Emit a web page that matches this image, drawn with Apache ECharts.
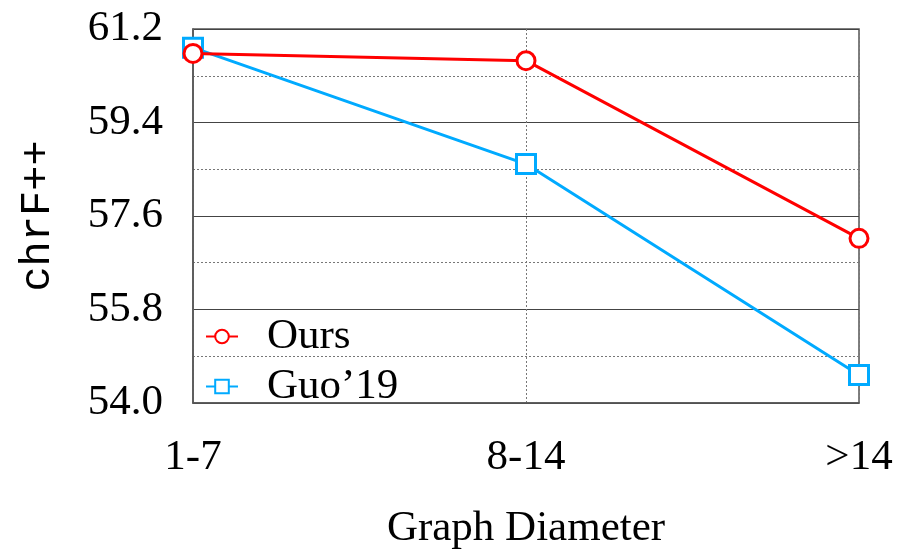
<!DOCTYPE html>
<html><head><meta charset="utf-8">
<script src="https://cdn.jsdelivr.net/npm/echarts@6/dist/echarts.min.js"></script>
<style>html,body{margin:0;padding:0;background:#fff}#c{width:900px;height:555px}</style>
</head><body><div id="c"></div>
<script>
const categories = ['1-7', '8-14', '>14'];
const oursValues = [60.73, 60.59, 57.17];
const guoValues = [60.84, 58.60, 54.54];
const seriesNames = ['Ours', 'Guo\u201919'];
const yTicks = [54.0, 55.8, 57.6, 59.4, 61.2];

const serif = '"Liberation Serif", "DejaVu Serif", serif';
const chart = echarts.init(document.getElementById('c'), null, {renderer: 'canvas'});
chart.setOption({
  animation: false,
  backgroundColor: '#fff',
  grid: {left: 193, right: 41, top: 29, bottom: 150, show: true, borderColor: '#555', borderWidth: 1.5},
  legend: {
    orient: 'vertical', left: 200, top: 310, itemGap: 7, itemWidth: 32, itemHeight: 17,
    textStyle: {fontFamily: serif, fontSize: 43, color: '#000', padding: [0, 0, 0, 24]},
    data: seriesNames
  },
  xAxis: {
    type: 'category', data: categories, boundaryGap: false,
    name: 'Graph Diameter', nameLocation: 'middle', nameGap: 104,
    nameTextStyle: {fontFamily: serif, fontSize: 43, color: '#000'},
    axisLine: {show: true, lineStyle: {color: '#555', width: 1.5}},
    axisTick: {show: false},
    axisLabel: {fontFamily: serif, fontSize: 43, color: '#000', margin: 33},
    splitLine: {show: true, lineStyle: {color: '#777', type: [2, 2], width: 1}}
  },
  yAxis: {
    type: 'value', min: yTicks[0], max: yTicks[yTicks.length - 1], interval: 1.8,
    name: 'chrF++', nameLocation: 'middle', nameGap: 134,
    nameTextStyle: {fontFamily: '"Liberation Mono", "DejaVu Sans Mono", monospace', fontSize: 42, fontWeight: 'normal', color: '#000'},
    axisLine: {show: true, lineStyle: {color: '#555', width: 1.5}},
    axisTick: {show: false},
    axisLabel: {fontFamily: serif, fontSize: 43, color: '#000', margin: 30,
      formatter: v => (Math.round(v * 10) / 10).toFixed(1)},
    splitLine: {show: true, lineStyle: {color: '#444', width: 1.2}},
    minorTick: {show: false, splitNumber: 2},
    minorSplitLine: {show: true, lineStyle: {color: '#777', type: [2, 2], width: 1}}
  },
  series: [
    {name: seriesNames[0], type: 'line', data: oursValues, symbol: 'circle', symbolSize: 18,
     z: 3,
     lineStyle: {color: '#ff0000', width: 3}, itemStyle: {color: '#fff', borderColor: '#ff0000', borderWidth: 3}},
    {name: seriesNames[1], type: 'line', data: guoValues, symbol: 'rect', symbolSize: 19,
     z: 2,
     lineStyle: {color: '#00aaff', width: 3}, itemStyle: {color: '#fff', borderColor: '#00aaff', borderWidth: 3}}
  ]
});
</script></body></html>
